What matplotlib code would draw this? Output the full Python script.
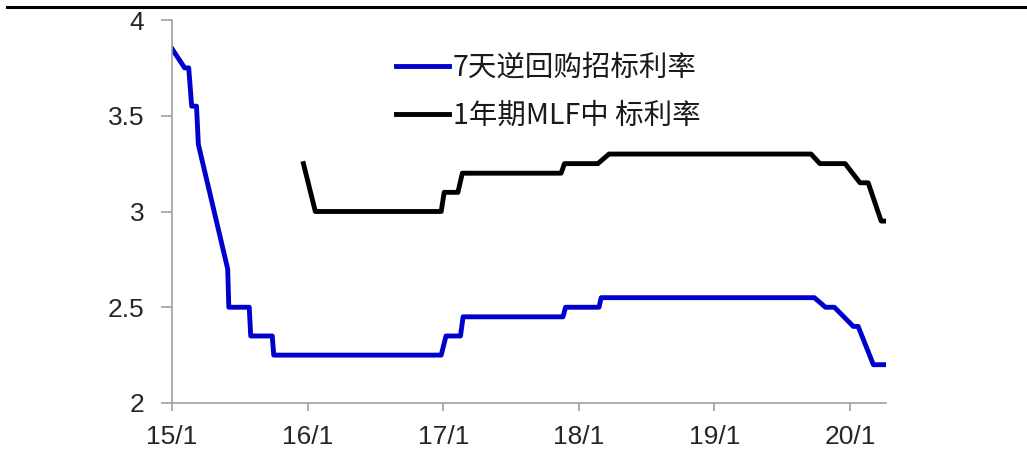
import matplotlib
matplotlib.use("Agg")
import matplotlib.pyplot as plt
from matplotlib.lines import Line2D
import pandas as pd

plt.rcParams['font.family'] = ['Liberation Sans', 'Noto Sans CJK SC', 'DejaVu Sans']

# 7-day reverse repo rate
repo_dates = ['2015-01-01', '2015-02-04', '2015-02-15', '2015-02-23', '2015-03-08',
              '2015-03-13', '2015-05-31', '2015-06-03', '2015-07-28', '2015-08-01',
              '2015-09-28', '2015-10-02', '2016-12-26', '2017-01-08', '2017-02-16',
              '2017-02-23', '2017-11-19', '2017-11-26', '2018-02-24', '2018-03-02',
              '2019-09-27', '2019-10-27', '2019-11-20', '2020-01-10', '2020-01-23',
              '2020-03-04', '2020-04-07']
repo_vals = [3.85, 3.75, 3.75, 3.55, 3.55,
             3.35, 2.70, 2.50, 2.50, 2.35,
             2.35, 2.25, 2.25, 2.35, 2.35,
             2.45, 2.45, 2.50, 2.50, 2.55,
             2.55, 2.50, 2.50, 2.40, 2.40,
             2.20, 2.20]

# 1-year MLF rate
mlf_dates = ['2015-12-21', '2016-01-22', '2016-12-26', '2017-01-03', '2017-02-09',
             '2017-02-21', '2017-11-14', '2017-11-23', '2018-02-21', '2018-03-23',
             '2019-09-18', '2019-10-12', '2019-12-19', '2020-01-28', '2020-02-19',
             '2020-03-25', '2020-04-07']
mlf_vals = [3.25, 3.00, 3.00, 3.10, 3.10,
            3.20, 3.20, 3.25, 3.25, 3.30,
            3.30, 3.25, 3.25, 3.15, 3.15,
            2.95, 2.95]

series_names = ['7天逆回购招标利率', '1年期MLF中 标利率']
xtick_dates = ['2015-01-01', '2016-01-01', '2017-01-01', '2018-01-01', '2019-01-01', '2020-01-01']
xtick_labels = ['15/1', '16/1', '17/1', '18/1', '19/1', '20/1']
yticks = [2, 2.5, 3, 3.5, 4]

fig = plt.figure(figsize=(10.27, 4.54), dpi=100)
ax = fig.add_axes([172/1027, 1 - 403/454, (886 - 172)/1027, (403 - 20)/454])

ax.plot(pd.to_datetime(repo_dates), repo_vals, color='#0000CC', lw=3.5,
        solid_joinstyle='round', label=series_names[0])
ax.plot(pd.to_datetime(mlf_dates), mlf_vals, color='black', lw=3.5,
        solid_joinstyle='round', label=series_names[1])

ax.set_xlim(pd.Timestamp('2015-01-01'), pd.Timestamp('2020-04-07'))
ax.set_ylim(2, 4)
ax.set_yticks(yticks)
ax.set_yticklabels([f'{v:g}' for v in yticks])
ax.set_xticks(pd.to_datetime(xtick_dates))
ax.set_xticklabels(xtick_labels)

for s in ['top', 'right']:
    ax.spines[s].set_visible(False)
for s in ['left', 'bottom']:
    ax.spines[s].set_color('#a0a0a0')
    ax.spines[s].set_linewidth(1.2)
ax.tick_params(axis='y', length=8, width=1.2, color='#a0a0a0', labelsize=19,
               labelcolor='#262626', pad=12)
ax.tick_params(axis='x', length=6, width=1.2, color='#a0a0a0', labelsize=19,
               labelcolor='#262626', pad=10)

leg = ax.legend(loc='upper left', bbox_to_anchor=((396 - 172)/714, 1 - (53 - 20)/383),
                frameon=False, handlelength=1.85, handletextpad=0.15,
                labelspacing=0.62, borderaxespad=0, borderpad=0,
                prop={'family': ['Noto Sans CJK SC', 'DejaVu Sans'], 'size': 20.5})
for t in leg.get_texts():
    t.set_color('#1a1a1a')

fig.add_artist(Line2D([7/1027, 1.0], [1 - 7/454, 1 - 7/454], color='black', lw=2.2,
                      transform=fig.transFigure))

fig.savefig('out.png', dpi=100)
